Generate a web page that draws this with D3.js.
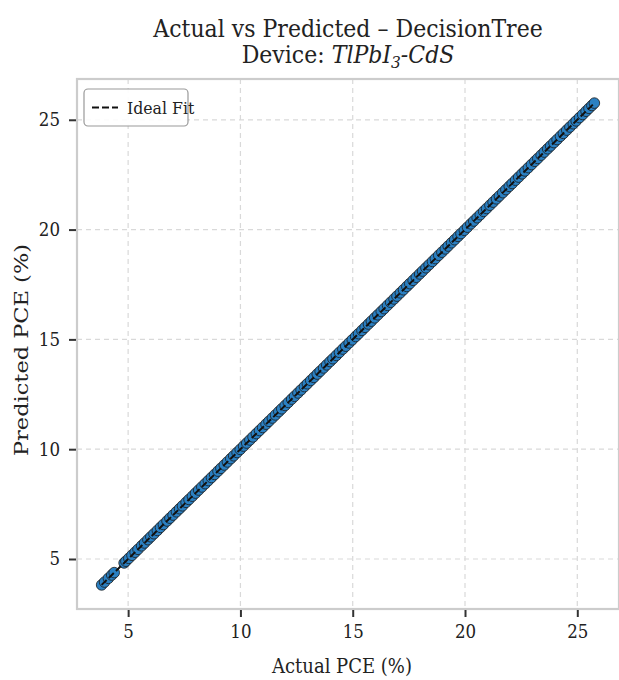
<!DOCTYPE html>
<html>
<head>
<meta charset="utf-8">
<script src="https://cdn.jsdelivr.net/npm/d3@7"></script>
<style>
  html, body { margin: 0; padding: 0; background: #fff; }
  svg { display: block; }
  text { font-family: "DejaVu Serif", "Liberation Serif", serif; fill: #222; }
</style>
</head>
<body>
<svg id="chart" width="619" height="680"></svg>
<script>
// Actual and predicted PCE (%) for the TlPbI3-CdS device test set
const actual = [3.82, 3.95, 4.12, 4.27, 4.38, 4.82, 4.90, 5.03, 5.17, 5.31, 5.44, 5.60, 5.73, 5.88, 6.01, 6.15, 6.30, 6.44, 6.57, 6.73, 6.86, 7.00, 7.15, 7.29, 7.42, 7.58, 7.71, 7.86, 8.00, 8.14, 8.28, 8.43, 8.57, 8.71, 8.85, 9.00, 9.13, 9.28, 9.42, 9.57, 9.70, 9.85, 9.99, 10.14, 10.28, 10.42, 10.56, 10.71, 10.85, 10.99, 11.14, 11.27, 11.42, 11.56, 11.71, 11.84, 11.99, 12.13, 12.28, 12.41, 12.56, 12.70, 12.85, 12.98, 13.13, 13.27, 13.42, 13.55, 13.70, 13.84, 13.99, 14.12, 14.27, 14.41, 14.56, 14.69, 14.84, 14.98, 15.13, 15.26, 15.41, 15.55, 15.70, 15.83, 15.98, 16.12, 16.27, 16.40, 16.55, 16.69, 16.84, 16.97, 17.12, 17.26, 17.41, 17.54, 17.69, 17.83, 17.98, 18.11, 18.26, 18.40, 18.55, 18.68, 18.83, 18.97, 19.12, 19.25, 19.40, 19.54, 19.69, 19.82, 19.97, 20.11, 20.26, 20.39, 20.54, 20.68, 20.83, 20.96, 21.11, 21.25, 21.40, 21.53, 21.68, 21.82, 21.97, 22.10, 22.25, 22.39, 22.54, 22.67, 22.82, 22.96, 23.11, 23.24, 23.39, 23.53, 23.68, 23.81, 23.96, 24.10, 24.25, 24.38, 24.53, 24.67, 24.82, 24.95, 25.10, 25.24, 25.39, 25.52, 25.65, 25.76];
const predicted = [3.82, 3.95, 4.12, 4.27, 4.38, 4.82, 4.90, 5.03, 5.17, 5.31, 5.44, 5.60, 5.73, 5.88, 6.01, 6.15, 6.30, 6.44, 6.57, 6.73, 6.86, 7.00, 7.15, 7.29, 7.42, 7.58, 7.71, 7.86, 8.00, 8.14, 8.28, 8.43, 8.57, 8.71, 8.85, 9.00, 9.13, 9.28, 9.42, 9.57, 9.70, 9.85, 9.99, 10.14, 10.28, 10.42, 10.56, 10.71, 10.85, 10.99, 11.14, 11.27, 11.42, 11.56, 11.71, 11.84, 11.99, 12.13, 12.28, 12.41, 12.56, 12.70, 12.85, 12.98, 13.13, 13.27, 13.42, 13.55, 13.70, 13.84, 13.99, 14.12, 14.27, 14.41, 14.56, 14.69, 14.84, 14.98, 15.13, 15.26, 15.41, 15.55, 15.70, 15.83, 15.98, 16.12, 16.27, 16.40, 16.55, 16.69, 16.84, 16.97, 17.12, 17.26, 17.41, 17.54, 17.69, 17.83, 17.98, 18.11, 18.26, 18.40, 18.55, 18.68, 18.83, 18.97, 19.12, 19.25, 19.40, 19.54, 19.69, 19.82, 19.97, 20.11, 20.26, 20.39, 20.54, 20.68, 20.83, 20.96, 21.11, 21.25, 21.40, 21.53, 21.68, 21.82, 21.97, 22.10, 22.25, 22.39, 22.54, 22.67, 22.82, 22.96, 23.11, 23.24, 23.39, 23.53, 23.68, 23.81, 23.96, 24.10, 24.25, 24.38, 24.53, 24.67, 24.82, 24.95, 25.10, 25.24, 25.39, 25.52, 25.65, 25.76];
const xTicks = [5, 10, 15, 20, 25];
const yTicks = [5, 10, 15, 20, 25];
const titleLine1 = "Actual vs Predicted \u2013 DecisionTree";
const xLabel = "Actual PCE (%)";
const yLabel = "Predicted PCE (%)";
const legendLabel = "Ideal Fit";

const SQ = 0.9; // horizontal squeeze of the lettering

const svg = d3.select("#chart");
const box = { left: 77, right: 619, top: 79, bottom: 609 };

const lo = Math.min(d3.min(actual), d3.min(predicted));
const hi = Math.max(d3.max(actual), d3.max(predicted));
const pad = (hi - lo) * 0.05;

const x = d3.scaleLinear().domain([lo - pad, hi + pad]).range([box.left, box.right]);
const y = d3.scaleLinear().domain([lo - pad, hi + pad]).range([box.bottom, box.top]);

// grid
const grid = svg.append("g").attr("stroke", "#d9d9d9").attr("stroke-width", 1.2).attr("stroke-dasharray", "5,4");
grid.selectAll(".gx").data(xTicks).join("line")
  .attr("x1", d => x(d)).attr("x2", d => x(d)).attr("y1", box.top).attr("y2", box.bottom);
grid.selectAll(".gy").data(yTicks).join("line")
  .attr("y1", d => y(d)).attr("y2", d => y(d)).attr("x1", box.left).attr("x2", box.right);

// points
svg.append("g").selectAll("circle").data(actual).join("circle")
  .attr("cx", d => x(d))
  .attr("cy", (d, i) => y(predicted[i]))
  .attr("r", 5.3)
  .attr("fill", "#2b80c2")
  .attr("stroke", "#1a1a1a")
  .attr("stroke-width", 0.8);

// ideal fit line
svg.append("line")
  .attr("x1", x(lo)).attr("y1", y(lo)).attr("x2", x(hi)).attr("y2", y(hi))
  .attr("stroke", "#111").attr("stroke-width", 2).attr("stroke-dasharray", "7,3");

// spines
const spine = svg.append("g").attr("stroke", "#cccccc").attr("stroke-width", 2.2).attr("fill", "none");
spine.append("rect").attr("x", box.left).attr("y", box.top)
  .attr("width", box.right - box.left).attr("height", box.bottom - box.top);

// axes
const xAxis = svg.append("g").attr("transform", `translate(0,${box.bottom + 1})`)
  .call(d3.axisBottom(x).tickValues(xTicks).tickSize(7).tickPadding(8).tickFormat(d3.format("d")));
const yAxis = svg.append("g").attr("transform", `translate(${box.left - 1},0)`)
  .call(d3.axisLeft(y).tickValues(yTicks).tickSize(7).tickPadding(9).tickFormat(d3.format("d")));
[xAxis, yAxis].forEach(a => {
  a.select(".domain").remove();
  a.selectAll(".tick line").attr("stroke", "#333").attr("stroke-width", 2);
  a.selectAll(".tick text").attr("font-family", "DejaVu Serif").attr("font-size", 18.5).attr("fill", "#333");
});
xAxis.selectAll(".tick text").attr("dy", "0.71em").attr("transform", `scale(${SQ},1)`);
yAxis.selectAll(".tick text").each(function () {
  const t = d3.select(this);
  const xx = +t.attr("x");
  t.attr("x", 0).attr("transform", `translate(${xx},0) scale(${SQ},1)`);
});

// titles
function squeezedText(cx, cy, size) {
  return svg.append("text")
    .attr("transform", `translate(${cx},${cy}) scale(${SQ},1)`)
    .attr("text-anchor", "middle")
    .attr("font-size", size);
}
const cx = (box.left + box.right) / 2;
squeezedText(cx, 37, 24.5).text(titleLine1);
const t2 = squeezedText(cx, 63, 24.5);
t2.append("tspan").text("Device: ");
t2.append("tspan").attr("font-style", "italic").text("TlPbI");
t2.append("tspan").attr("font-style", "italic").attr("font-size", 17).attr("dy", 5).text("3");
t2.append("tspan").attr("font-style", "italic").attr("dy", -5).text("-CdS");

// axis labels
squeezedText(342, 673, 20).attr("fill", "#333").text(xLabel);
svg.append("text")
  .attr("transform", `translate(28,350) rotate(-90) scale(1,${SQ - 0.1})`)
  .attr("text-anchor", "middle").attr("font-size", 22.5).attr("fill", "#333")
  .text(yLabel);

// legend
const lg = svg.append("g");
lg.append("rect").attr("x", 84).attr("y", 89).attr("width", 104).attr("height", 37).attr("rx", 4)
  .attr("fill", "#fff").attr("fill-opacity", 0.9).attr("stroke", "#999").attr("stroke-width", 1.2);
lg.append("line").attr("x1", 92).attr("x2", 118).attr("y1", 107.5).attr("y2", 107.5)
  .attr("stroke", "#111").attr("stroke-width", 2.2).attr("stroke-dasharray", "7,3");
lg.append("text").attr("transform", `translate(127,114) scale(${SQ},1)`).attr("font-size", 17.5).text(legendLabel);
</script>
</body>
</html>
